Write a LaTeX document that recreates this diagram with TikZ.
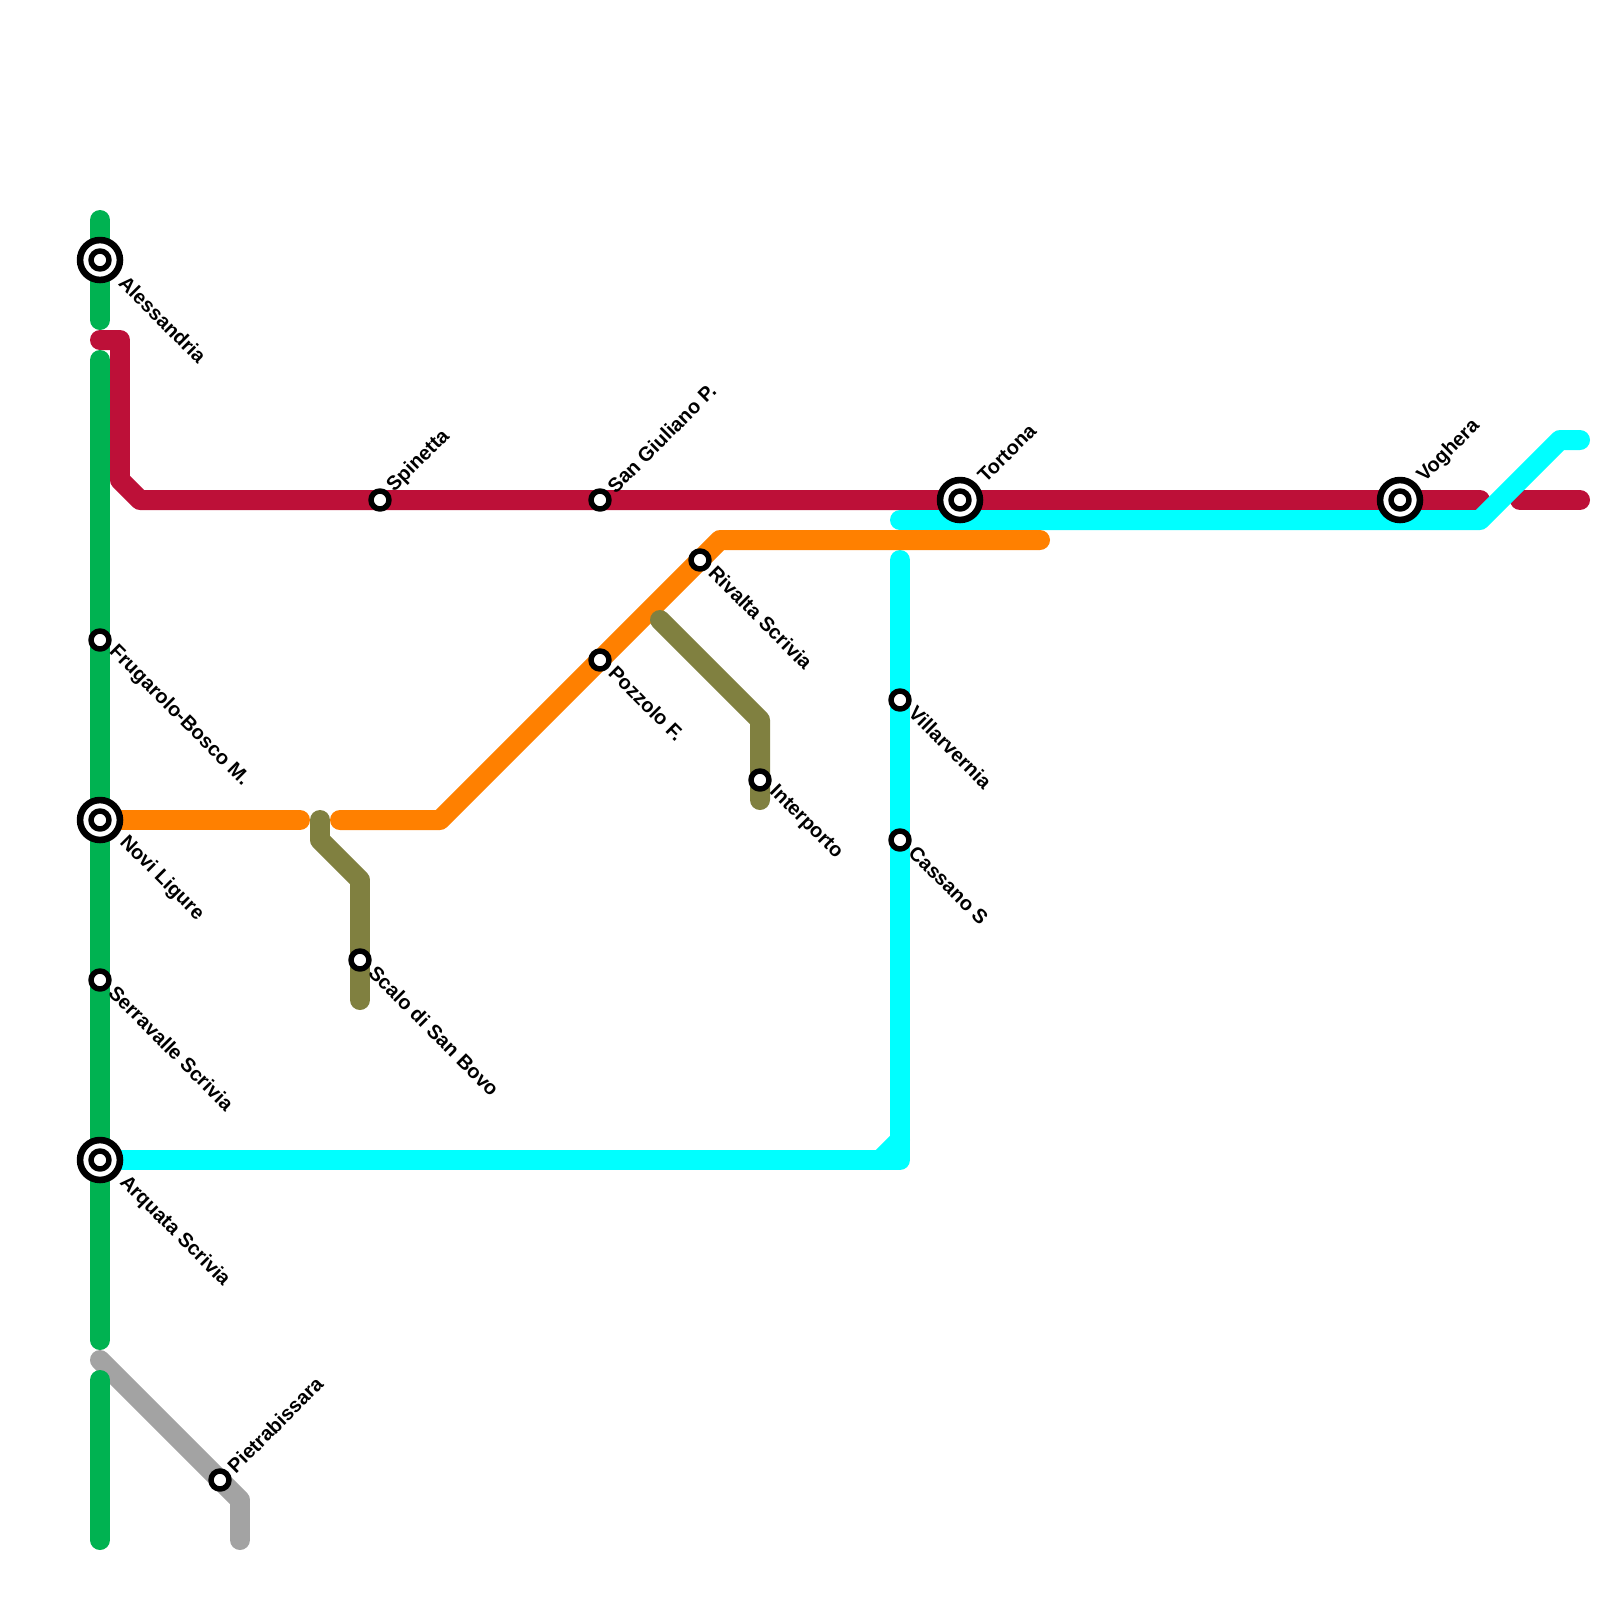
\documentclass[tikz,border=0pt]{standalone}
\usepackage{fontspec}
\setmainfont{Liberation Sans}
\definecolor{linegreen}{HTML}{00B251}
\definecolor{linered}{HTML}{BD1038}
\definecolor{lineorange}{HTML}{FF8000}
\definecolor{lineolive}{HTML}{808040}
\definecolor{linecyan}{HTML}{00FFFF}
\definecolor{linegray}{HTML}{A3A3A3}
\tikzset{
	track/.style={line width=7.11pt},
	stn/.style={circle,draw=black,fill=white,line width=1.95pt,minimum size=6.4pt,inner sep=0pt,outer sep=0pt},
	hub/.style={circle,draw=black,fill=white,line width=2.35pt,minimum size=14.2pt,inner sep=0pt,outer sep=0pt},
	lbl/.style={font=\bfseries\fontsize{7.11pt}{9pt}\selectfont,inner sep=0pt,anchor=west},
	lbldown/.style={lbl,rotate=-45,xshift=5.2pt,yshift=0.8pt},
	lblup/.style={lbl,rotate=45,xshift=5.2pt},
	hubdown/.style={lbl,rotate=-45,xshift=10.4pt,yshift=0.8pt},
	hubup/.style={lbl,rotate=45,xshift=10.4pt}
}
\begin{document}
\begin{tikzpicture}[x=0.25cm,y=-0.25cm,line join=round,line cap=round]
	\useasboundingbox (0,0) rectangle (80,80);
	
	\draw[track,linered] (5,17)--(6,17)--(6,24)--(7,25)--(74,25);
	\draw[track,linered] (76,25)--(79,25);
	
	\draw[track,linegray] (5,68)--(12,75)--(12,77);
	
	\draw[track,linegreen] (5,11)--(5,16);
	\draw[track,linegreen] (5,18)--(5,67);
	\draw[track,linegreen] (5,69)--(5,77);
	
	\draw[track,linecyan] (45,26)--(74,26)--(78,22)--(79,22);
	\draw[track,linecyan] (6,58)--(45,58)--(45,28);
	\draw[track,linecyan] (44,58)--(45,57);
	
	\draw[track,lineorange] (6,41)--(15,41);
	\draw[track,lineorange] (17,41)--(22,41)--(36,27)--(52,27);
	
	\draw[track,lineolive] (16,41)--(16,42)--(18,44)--(18,50);
	\draw[track,lineolive] (33,31)--(38,36)--(38,40);
	
	% stations
	\node[hub] (alessandria) at (5,13) {};
	\node[stn] at (alessandria) {};
	\node[hub] (novi) at (5,41) {};
	\node[stn] at (novi) {};
	\node[hub] (arquata) at (5,58) {};
	\node[stn] at (arquata) {};
	\node[hub] (tortona) at (48,25) {};
	\node[stn] at (tortona) {};
	\node[hub] (voghera) at (70,25) {};
	\node[stn] at (voghera) {};
	\node[stn] (frugarolo) at (5,32) {};
	\node[stn] (serravalle) at (5,49) {};
	\node[stn] (pietra) at (11,74) {};
	\node[stn] (scalo) at (18,48) {};
	\node[stn] (spinetta) at (19,25) {};
	\node[stn] (giuliano) at (30,25) {};
	\node[stn] (pozzolo) at (30,33) {};
	\node[stn] (rivalta) at (35,28) {};
	\node[stn] (interporto) at (38,39) {};
	\node[stn] (villarvernia) at (45,35) {};
	\node[stn] (cassano) at (45,42) {};
	
	% labels
	\node[hubdown] (alessandria-t) at (alessandria) {Alessandria};
	\node[hubdown] (novi-t) at (novi) {Novi Ligure};
	\node[hubdown] (arquata-t) at (arquata) {Arquata Scrivia};
	\node[hubup] (tortona-t) at (tortona) {Tortona};
	\node[hubup] (voghera-t) at (voghera) {Voghera};
	\node[lbldown] (frugarolo-t) at (frugarolo) {Frugarolo-Bosco M.};
	\node[lbldown] (serravalle-t) at (serravalle) {Serravalle Scrivia};
	\node[lblup] (pietra-t) at (pietra) {Pietrabissara};
	\node[lbldown] (scalo-t) at (scalo) {Scalo di San Bovo};
	\node[lblup] (spinetta-t) at (spinetta) {Spinetta};
	\node[lblup] (giuliano-t) at (giuliano) {San Giuliano P.};
	\node[lbldown] (pozzolo-t) at (pozzolo) {Pozzolo F.};
	\node[lbldown] (rivalta-t) at (rivalta) {Rivalta Scrivia};
	\node[lbldown] (interporto-t) at (interporto) {Interporto};
	\node[lbldown] (villarvernia-t) at (villarvernia) {Villarvernia};
	\node[lbldown] (cassano-t) at (cassano) {Cassano S};
\end{tikzpicture}
\end{document}
